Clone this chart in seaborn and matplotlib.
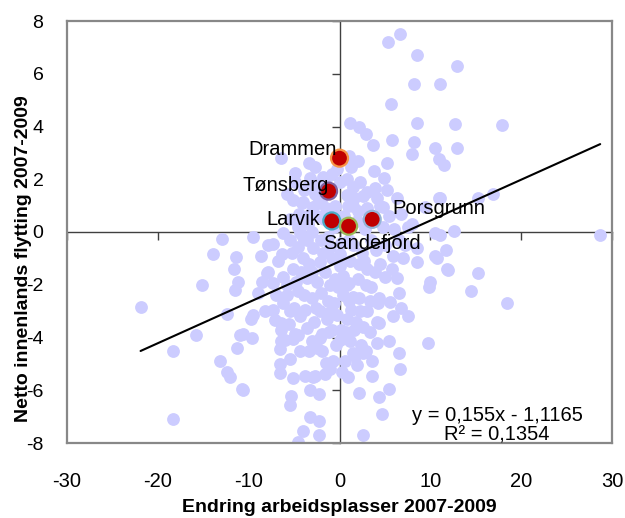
import numpy as np
import pandas as pd
import matplotlib
matplotlib.use("Agg")
import matplotlib.pyplot as plt
import seaborn as sns

# kommuner (lavender points): endring arbeidsplasser, netto innenlands flytting
x_all = [
    5.3, 6.7, 8.5, 12.9, 8.2, 11.1, 5.7, 1.2, 2.2, 2.9, 3.7, 8.5, 12.7, 17.9, 5.8, 8.2, 8.0, 10.5,
    12.9, 10.9, 11.5, 5.2, 3.8, 4.9, 1.3, 16.9, 15.2, 11.1, 28.7, 12.6, 11.7, 10.5, 10.5,
    2.3, 0.8, 1.5, 3.9, 5.2, 0.8, 2.6, 4.1, 6.3, 1.5, 9.4, 10.9, 4.8,
    15.3, 11.9, 10.0, 9.9, 14.5, 18.4, 7.5, 9.7, 6.5, 6.7, 5.5, 4.4, 2.2, 4.65, 2.55, 5.6, 6.3,
    3.55, 4.1, 5.4, 1.7, 1.9, 11.8, 8.5, 8.5, 10.7, 11.1, 4.3, 3.0, 1.5, 1.0, 4.5, 0.6, 1.2,
    2.6, 4.3, 1.5, 0.1,
    -2.3, -2.3, -3.25, -2.3, -4.0, -1.6, -2.9, -4.55, -5.35, -5.45, -5.45, -6.55, -5.1, -3.8,
    -2.7, -6.6, -6.4, -6.0, -5.1, -6.6, -1.5, -0.7, -3.05, -2.5, -6.4, -4.9, -3.6, -1.95, -0.85,
    -6.4,
    -21.9, -15.1, -13.9, -11.4, -8.6, -11.6, -11.2, -11.5, -9.0, -12.4, -9.7, -15.8, -10.9, -9.6,
    -18.3, -11.3, -13.2, -12.4, -12.1, -10.7, -18.3, -7.3, -8.0, -10.6, -10.6, -12.9, -9.5, -7.3,
    -6.2, -4.35,
    -6.45, -4.9, -3.25, -5.8, -5.1, -4.15, -2.7, -1.8, -0.3, -4.9, -3.6, -2.7, -4.0, -2.9, 0.05,
    -5.5, -4.5, -3.5, -2.5, -2.0, -1.5, -3.0, -2.0, -4.0, -5.5, -0.5, -1.0, -0.6, 0.5, -1.3,
    -7.85, -6.35, -7.85, -7.3, -9.5, -6.2, -5.8, -4.55, -4.0, -5.1, -2.9, -2.15, -1.05, 0.05,
    0.4, -3.6, -2.5, -1.05, -4.55, -3.05, -1.25, 0.4, -5.45, -3.8, -2.15, -0.3, -7.1, -6.2,
    1.5, 2.5, 3.5, 5.0, 6.5, 7.5, 5.5, 6.8, 8.0, 2.0, 7.0, 3.0, 2.0, 5.8, 1.2, 2.2, 3.5, 0.8,
    1.8, 0.2, 2.4, 1.6, 3.0, 4.1, 1.3, 4.2, 3.4, 2.7, 3.9, 5.0, 6.5, 5.9, 6.8, 3.6, 2.9, 0.9,
    -3.0, -2.2, -1.5, -0.8, -3.9, -2.4, -1.7, -3.2, -4.6, -0.3, 0.9, 1.9, 2.8, 4.8, 6.0, 7.2,
    5.9, 4.0, 2.1, 1.1, 0.0, -0.8, -1.8, -3.4, -4.8, -3.9, -2.0, -0.5, -1.6, 0.8, 2.9, -0.6,
    1.1, 2.3, -1.4, -2.8, -4.3, -5.6, -3.4, -4.4, -1.9, -0.4, 0.7, 3.4, -5.2, -6.8, -7.0, -8.2,
    -8.5, -3.4, -4.0, 0.2, 3.0, 1.0, 2.0, 4.5,
    -4.2, -3.0, -1.2, -0.2, -2.6, -5.0, -3.6, -0.9, 1.6, -2.2, -4.6, -1.0, 0.3, 2.6, -3.2, -5.8,
]
y_all = [
    7.2, 7.5, 6.7, 6.3, 5.6, 5.6, 4.85, 4.15, 4.0, 3.7, 3.3, 4.15, 4.1, 4.05, 3.5, 3.4, 2.95, 3.2,
    3.2, 2.75, 2.55, 2.6, 2.3, 2.05, 2.45, 1.45, 1.3, 1.3, -0.1, 0.05, -0.7, -0.05, -0.9,
    1.9, 2.0, 1.7, 1.65, 1.6, 1.4, 1.35, 1.3, 1.3, 1.0, 0.95, 1.3, 0.95,
    -1.55, -1.45, -1.9, -2.1, -2.25, -2.7, -3.2, -4.2, -4.6, -5.2, -5.95, -6.25, -6.1, -6.9, -7.7,
    -2.65, -1.75,
    -5.45, -4.2, -4.15, -4.7, -5.05, -1.4, -1.15, -0.6, -1.0, -0.1, -2.5, -3.0, -2.45, -1.95,
    -1.2, -4.9, -4.15,
    -3.6, -3.45, -4.6, -4.1,
    -6.15, -7.7, -7.0, -7.15, -7.55, -5.4, -5.5, -7.95, -6.2, -6.55, -4.8, -5.35, -5.55, -5.45,
    -5.45, -4.45, -3.7, -4.1, -4.05, -5.0, -4.95, -4.9, -4.15, -4.4, -3.45, -3.85, -3.65, -3.85,
    -3.7, -4.15,
    -2.85, -2.0, -0.85, -0.95, -0.9, -1.4, -1.9, -2.2, -2.3, -3.1, -3.3, -3.9, -3.9, -4.0,
    -4.5, -4.4, -4.9, -5.3, -5.5, -5.95, -7.1, -2.95, -1.55, -3.85, -6.0, -0.25, -0.2, -0.45,
    -0.05, -0.05,
    2.8, 2.25, 2.05, 1.45, 1.2, 1.1, 2.45, 2.1, 2.4, 1.9, 1.7, 1.45, 1.15, 0.95, 1.9,
    0.5, 0.7, 0.3, 0.6, 1.2, 0.9, 0.0, -0.3, -0.2, -0.3, 1.0, 1.5, 0.2, 0.6, -0.2,
    -0.5, -0.85, -1.5, -1.95, -3.15, -1.7, -2.4, -0.55, -1.0, -1.4, -0.6, -1.15, -0.55, -0.85,
    -1.65, -1.75, -1.9, -2.0, -2.25, -2.5, -2.6, -2.4, -3.0, -2.95, -3.0, -3.15, -3.35, -2.7,
    -0.5, -0.8, -0.3, -0.5, -0.3, 0.2, 0.6, 0.7, 0.3, 0.8, -1.0, -1.4, -1.8, -1.4, -1.1, -2.5,
    -2.1, -3.3, -3.4, -3.7, -4.3, 1.3, 0.9, -3.4, -2.95, -2.7, -2.6, -1.1, -1.5, -1.7, -2.3,
    -3.2, -2.9, -4.9, -4.5, -5.5,
    1.9, 1.7, 2.0, 2.2, 1.6, 1.1, 0.5, 0.7, 0.2, 0.6, 1.0, 0.4, 0.1, 0.2, 0.1, -0.5,
    -0.9, -0.7, -1.2, -0.3, -1.3, -1.0, -0.8, -1.2, -1.9, -2.4, -2.3, -1.8, -1.5, -2.0, -2.0, -2.7,
    -2.6, -3.0, -3.3, -3.4, -3.2, -3.5, -4.5, -4.5, -4.5, -4.3, -3.8, -3.8, -0.8, -1.1, -2.4, -3.0,
    -1.9, 2.6, 0.5, -0.4, 1.5, 2.9, 2.7, 1.0,
    -1.5, -1.5, -3.8, -2.1, -2.9, -2.9, -0.3, -3.0, -3.7, -4.0, -3.9, -5.2, -5.3, -4.6, -6.0, -2.0,
]

# uthevede byer
byer = ["Drammen", "Tønsberg", "Larvik", "Sandefjord", "Porsgrunn"]
by_x = [0.0, -1.2, -0.85, 1.0, 3.6]
by_y = [2.8, 1.55, 0.42, 0.22, 0.48]
by_kant = ["#F79646", "#8064A2", "#4BACC6", "#9BBB59", "#95B3D7"]

# trendlinje (Excel)
stigning = 0.155
konstant = -1.1165
r2 = 0.1354

df = pd.DataFrame({"x": x_all, "y": y_all})
df_by = pd.DataFrame({"by": byer, "x": by_x, "y": by_y})

sns.set_style("white")
plt.rcParams["font.family"] = ["Liberation Sans", "DejaVu Sans"]
plt.rcParams["axes.unicode_minus"] = False
plt.rcParams["text.color"] = "black"
plt.rcParams["xtick.color"] = "black"
plt.rcParams["ytick.color"] = "black"

fig = plt.figure(figsize=(6.25, 5.18), dpi=100)
rect = [67 / 625, 75 / 518, 545 / 625, 422 / 518]

# akser gjennom origo (med tick marks)
ax0 = fig.add_axes(rect)
ax0.set_xlim(-30, 30)
ax0.set_ylim(-8, 8)
ax0.spines["left"].set_position(("data", 0))
ax0.spines["bottom"].set_position(("data", 0))
ax0.spines["top"].set_visible(False)
ax0.spines["right"].set_visible(False)
for s in ["left", "bottom"]:
    ax0.spines[s].set_color("#404040")
    ax0.spines[s].set_linewidth(1.0)
ax0.set_xticks(np.arange(-30, 31, 10))
ax0.set_yticks(np.arange(-8, 9, 2))
ax0.tick_params(labelleft=False, labelbottom=False, direction="out", length=6,
                width=1, color="#404040", left=True, bottom=True)

# hovedakse med punkter, ramme og etiketter
ax = fig.add_axes(rect, facecolor="none")
ax.set_zorder(ax0.get_zorder() + 1)

sns.scatterplot(data=df, x="x", y="y", ax=ax, color="#CCCCFF", s=85,
                linewidth=0, legend=False)

xs = np.array([min(x_all + by_x), max(x_all + by_x)])
sns.lineplot(x=xs, y=stigning * xs + konstant, ax=ax, color="black", linewidth=1.5)

sns.scatterplot(data=df_by, x="x", y="y", ax=ax, color="#C00000", s=150,
                edgecolor=by_kant, linewidth=1.6, legend=False, zorder=5)

offs = {
    "Drammen": (-3, 9, "right"),
    "Tønsberg": (0, 6, "right"),
    "Larvik": (-12, 1, "right"),
    "Sandefjord": (23, -17, "center"),
    "Porsgrunn": (20, 11, "left"),
}
for navn, bx, by in zip(byer, by_x, by_y):
    dx, dy, ha = offs[navn]
    ax.annotate(navn, (bx, by), xytext=(dx, dy), textcoords="offset pixels",
                ha=ha, va="center", fontsize=14.5, color="black", zorder=6)

ax.text(0.789, 0.066, "y = 0,155x - 1,1165", transform=ax.transAxes,
        ha="center", va="center", fontsize=14.5)
ax.text(0.789, 0.019, "R² = 0,{}".format(str(r2).split(".")[1]), transform=ax.transAxes,
        ha="center", va="center", fontsize=14.5)

ax.set_xlim(-30, 30)
ax.set_ylim(-8, 8)
ax.set_xticks(np.arange(-30, 31, 10))
ax.set_yticks(np.arange(-8, 9, 2))
ax.tick_params(axis="x", length=0, pad=21, labelsize=14.5)
ax.tick_params(axis="y", length=0, pad=17, labelsize=14)
ax.set_xlabel("")
ax.set_ylabel("")
for s in ax.spines.values():
    s.set_visible(True)
    s.set_color("#888888")
    s.set_linewidth(1.6)

fig.text(339.5 / 625, 1 - 508 / 518, "Endring arbeidsplasser 2007-2009",
         ha="center", va="center", fontsize=14, fontweight="bold")
fig.text(24 / 625, 0.5, "Netto innenlands flytting 2007-2009", rotation=90,
         ha="center", va="center", fontsize=14, fontweight="bold")

fig.savefig("out.png", dpi=100)
